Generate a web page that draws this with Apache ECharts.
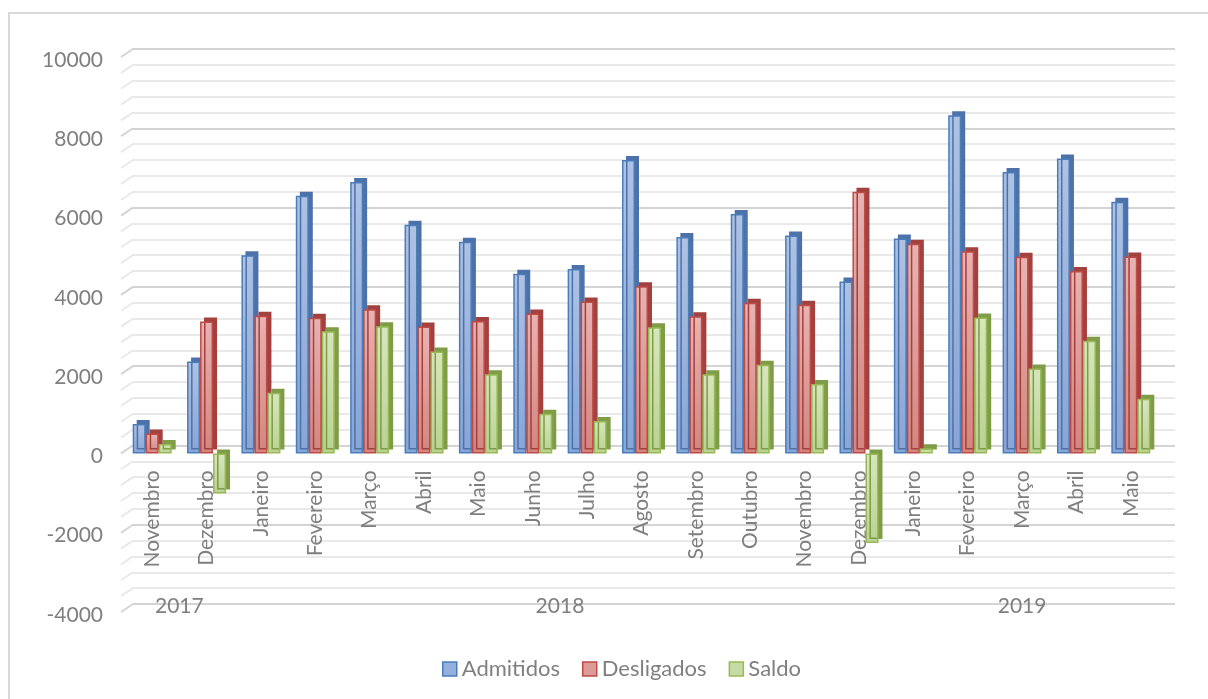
<!DOCTYPE html>
<html>
<head>
<meta charset="utf-8">
<script src="https://cdn.jsdelivr.net/npm/echarts@6/dist/echarts.min.js"></script>
<style>
  html, body { margin: 0; padding: 0; background: #fff; }
  #chart { width: 1208px; height: 699px; }
</style>
</head>
<body>
<div id="chart"></div>
<script>
// dados
var meses = ['Novembro', 'Dezembro', 'Janeiro', 'Fevereiro', 'Março', 'Abril', 'Maio', 'Junho', 'Julho',
    'Agosto', 'Setembro', 'Outubro', 'Novembro', 'Dezembro', 'Janeiro', 'Fevereiro', 'Março', 'Abril', 'Maio'];
var anos = ['2017', '2018', '2019'];
var anoInicio = [0, 2, 14];
var anoFim = [2, 14, 19];

var admitidos = [740, 2320, 5000, 6500, 6850, 5770, 5340, 4530, 4650, 7400, 5460, 6040, 5500, 4340, 5420, 8530, 7100, 7440, 6350];
var desligados = [500, 3330, 3470, 3420, 3640, 3200, 3340, 3530, 3830, 4220, 3460, 3800, 3750, 6600, 5290, 5100, 4960, 4600, 4970];
var saldo = [240, -1010, 1530, 3080, 3210, 2570, 2000, 1000, 820, 3180, 2000, 2240, 1750, -2260, 130, 3430, 2140, 2840, 1380];

var yMin = -4000, yMax = 10000, yStep = 2000;

var FONT = 'Lato';
var CINZA = '#7f7f7f';

// geometria da área (frente e parede de fundo)
var frente = {left: 125, right: 50, top: 57, bottom: 87};
var fundo = {left: 132, right: 33, top: 49, bottom: 95};
var zeroFrente = frente.top + (699 - frente.top - frente.bottom) * yMax / (yMax - yMin);

var chart = echarts.init(document.getElementById('chart'));

function barra(nome, dados, topo, base, borda, lado) {
    return {
        name: nome,
        type: 'bar',
        xAxisIndex: 0,
        yAxisIndex: 0,
        data: dados,
        barWidth: 13,
        barGap: '0%',
        itemStyle: {
            color: new echarts.graphic.LinearGradient(0, 0, 0, 1, [
                {offset: 0, color: topo},
                {offset: 1, color: base}
            ]),
            borderColor: borda,
            borderWidth: 1.5,
            shadowColor: lado,
            shadowBlur: 0,
            shadowOffsetX: 4,
            shadowOffsetY: -4
        },
        emphasis: {disabled: true},
        animation: false
    };
}

function grade(g) {
    return {left: g.left, right: g.right, top: g.top, bottom: g.bottom,
        containLabel: false, outerBoundsMode: 'none'};
}

// centro de cada ano no eixo (em unidades de categoria)
var centroAno = {};
for (var i = 0; i < anos.length; i++) {
    centroAno[((anoInicio[i] + anoFim[i]) / 2).toFixed(1)] = anos[i];
}

var option = {
    backgroundColor: '#fff',
    animation: false,
    textStyle: {fontFamily: FONT},
    grid: [
        grade(frente),   // barras
        grade(fundo),    // linhas de grade da parede de fundo
        grade(frente),   // anos
        // rótulos dos meses: a base desta grade fica no zero
        {left: frente.left, right: frente.right, top: frente.top, bottom: 699 - zeroFrente,
            containLabel: false, outerBoundsMode: 'none'}
    ],
    xAxis: [
        {
            type: 'category',
            gridIndex: 0,
            data: meses,
            axisLine: {show: false},
            axisTick: {show: false},
            splitLine: {show: false},
            axisLabel: {show: false}
        },
        {
            type: 'value',
            gridIndex: 1,
            show: false
        },
        {
            type: 'value',
            gridIndex: 2,
            min: 0,
            max: 19,
            interval: 0.5,
            axisLine: {show: false, onZero: false},
            axisTick: {show: false},
            splitLine: {show: false},
            axisLabel: {
                margin: -16,
                color: CINZA,
                fontFamily: FONT,
                fontSize: 21,
                showMinLabel: true,
                showMaxLabel: true,
                formatter: function (v) {
                    return centroAno[v.toFixed(1)] || '';
                }
            }
        },
        {
            type: 'category',
            gridIndex: 3,
            data: meses,
            position: 'bottom',
            axisLine: {show: false, onZero: false},
            axisTick: {show: false},
            splitLine: {show: false},
            axisLabel: {
                rotate: 90,
                margin: 17,
                interval: 0,
                color: CINZA,
                fontFamily: FONT,
                fontSize: 21
            },
            z: 1
        }
    ],
    yAxis: [
        {
            type: 'value',
            gridIndex: 0,
            min: yMin,
            max: yMax,
            interval: yStep,
            axisLine: {show: false},
            axisTick: {show: false},
            splitLine: {show: false},
            axisLabel: {
                margin: 22,
                color: CINZA,
                fontFamily: FONT,
                fontSize: 21,
                formatter: function (v) { return '{n|' + v + '}'; },
                rich: {
                    n: {color: CINZA, fontFamily: FONT, fontSize: 21, padding: [6, 0, 0, 0]}
                }
            }
        },
        {
            type: 'value',
            gridIndex: 1,
            min: yMin,
            max: yMax,
            interval: yStep,
            axisLine: {show: false},
            axisTick: {show: false},
            axisLabel: {show: false},
            splitLine: {show: true, lineStyle: {color: '#d4d4d4', width: 2}},
            minorTick: {show: false, splitNumber: 5},
            minorSplitLine: {show: true, lineStyle: {color: '#e9e9e9', width: 2}}
        },
        {
            type: 'value',
            gridIndex: 2,
            min: yMin,
            max: yMax,
            show: false
        },
        {
            type: 'value',
            gridIndex: 3,
            min: 0,
            max: 1,
            show: false
        }
    ],
    legend: {
        left: 437,
        top: 653,
        itemWidth: 14,
        itemHeight: 14,
        itemGap: 22,
        icon: 'rect',
        textStyle: {color: CINZA, fontFamily: FONT, fontSize: 22},
        data: [
            {name: 'Admitidos', itemStyle: {color: '#95b0dc', borderColor: '#4a7ebb', borderWidth: 1.5, shadowColor: 'transparent'}},
            {name: 'Desligados', itemStyle: {color: '#dc9a99', borderColor: '#be4b48', borderWidth: 1.5, shadowColor: 'transparent'}},
            {name: 'Saldo', itemStyle: {color: '#c6daa6', borderColor: '#98b954', borderWidth: 1.5, shadowColor: 'transparent'}}
        ]
    },
    series: [
        barra('Admitidos', admitidos, '#aec2e4', '#88a5d6', '#4a7ebb', '#4d72aa'),
        barra('Desligados', desligados, '#e8b3b2', '#d3857f', '#be4b48', '#a3413e'),
        barra('Saldo', saldo, '#d7e6bd', '#b9d293', '#98b954', '#7f9c46')
    ]
};

chart.setOption(option);

// paredes: moldura e diagonais da parede lateral, a partir das escalas
var linhas = [];
for (var v = yMin; v <= yMax; v += 400) {
    var yf = chart.convertToPixel({yAxisIndex: 0}, v);
    var yb = chart.convertToPixel({yAxisIndex: 1}, v);
    linhas.push({
        type: 'line',
        silent: true,
        shape: {x1: frente.left - 4, y1: yf, x2: fundo.left + 1, y2: yb},
        style: {stroke: (v % 2000 === 0) ? '#d4d4d4' : '#e9e9e9', lineWidth: 2},
        z: 0
    });
}
linhas.push({
    type: 'rect',
    silent: true,
    shape: {x: 9, y: 13, width: 1400, height: 900},
    style: {fill: 'none', stroke: '#d9d9d9', lineWidth: 2},
    z: 0
});
chart.setOption({graphic: linhas});
</script>
</body>
</html>
